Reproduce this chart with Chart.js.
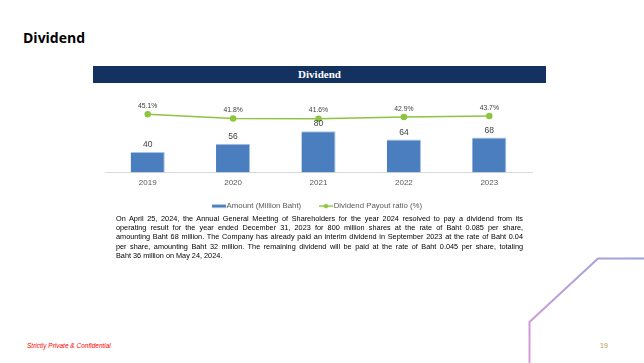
<!DOCTYPE html>
<html>
<head>
<meta charset="utf-8">
<script src="https://cdn.jsdelivr.net/npm/chart.js@4"></script>
<style>
  html, body { margin: 0; padding: 0; background: #fff; }
  body { width: 644px; height: 363px; position: relative; overflow: hidden; font-family: "Liberation Sans", Arial, sans-serif; }
  #pageTitle { position: absolute; left: 23px; top: 28px; font: bold 14px "Open Sans", "Liberation Sans", sans-serif; color: #000; }
  #banner { position: absolute; left: 93px; top: 66px; width: 453px; height: 17px; background: #14325f; color: #fff;
            font: bold 11px "Liberation Serif", "DejaVu Serif", serif; text-align: center; line-height: 17px; }
  #chartBox { position: absolute; left: 93px; top: 85px; width: 453px; height: 135px; }
  #note { position: absolute; left: 116px; top: 214px; width: 407px; font-size: 7.3px; line-height: 9.2px; color: #000; }
  #note div { text-align: justify; text-align-last: justify; white-space: nowrap; }
  #note div.last { text-align-last: left; }
  #footer { position: absolute; left: 27px; top: 342px; font: italic 6.5px "Liberation Sans", sans-serif; color: #ff0000; }
  #pageNo { position: absolute; left: 600px; top: 342px; font: 7px "Liberation Sans", sans-serif; color: #b8964a; }
  #deco { position: absolute; left: 0; top: 0; }
</style>
</head>
<body>
<div id="pageTitle">Dividend</div>
<div id="banner">Dividend</div>
<div id="chartBox"><canvas id="dividendChart"></canvas></div>
<div id="note">
  <div>On April 25, 2024, the Annual General Meeting of Shareholders for the year 2024 resolved to pay a dividend from its</div>
  <div>operating result for the year ended December 31, 2023 for 800 million shares at the rate of Baht 0.085 per share,</div>
  <div>amounting Baht 68 million. The Company has already paid an interim dividend in September 2023 at the rate of Baht 0.04</div>
  <div>per share, amounting Baht 32 million. The remaining dividend will be paid at the rate of Baht 0.045 per share, totaling</div>
  <div class="last">Baht 36 million on May 24, 2024.</div>
</div>
<div id="footer">Strictly Private &amp; Confidential</div>
<div id="pageNo">19</div>
<svg id="deco" width="644" height="363">
  <defs>
    <linearGradient id="decoGrad" x1="0" y1="1" x2="1" y2="0">
      <stop offset="0" stop-color="#d99ad6"/>
      <stop offset="1" stop-color="#9aa3e0"/>
    </linearGradient>
  </defs>
  <polyline points="529.5,363 529.5,322 598,258.5 644,258.5" fill="none" stroke="url(#decoGrad)" stroke-width="2"/>
</svg>

<script>
const years = ["2019", "2020", "2021", "2022", "2023"];
const amountMillionBaht = [40, 56, 80, 64, 68];
const payoutRatio = [45.1, 41.8, 41.6, 42.9, 43.7];

const barColor = "#4a7ebf";
const lineColor = "#8cc63f";
const labelGray = "#595959";

// small swatches for the legend
function makeSwatch(kind) {
    const c = document.createElement("canvas");
    c.width = 14; c.height = 8;
    const g = c.getContext("2d");
    if (kind === "bar") {
        g.fillStyle = barColor;
        g.fillRect(0, 2.5, 14, 3);
    } else {
        g.strokeStyle = lineColor;
        g.lineWidth = 1.5;
        g.beginPath(); g.moveTo(0, 4); g.lineTo(14, 4); g.stroke();
        g.fillStyle = lineColor;
        g.beginPath(); g.arc(7, 4, 2.2, 0, Math.PI * 2); g.fill();
    }
    return c;
}

// value labels above bars and points
const valueLabels = {
    id: "valueLabels",
    afterDatasetsDraw(chart) {
        const ctx = chart.ctx;
        ctx.save();
        ctx.textAlign = "center";
        ctx.textBaseline = "bottom";
        chart.data.datasets.forEach((ds, i) => {
            const meta = chart.getDatasetMeta(i);
            meta.data.forEach((el, j) => {
                if (ds.type === "bar") {
                    ctx.font = "8.5px 'Liberation Sans', sans-serif";
                    ctx.fillStyle = "#404040";
                    ctx.fillText(ds.data[j], el.x, el.y - 3);
                } else {
                    ctx.font = "6.8px 'Liberation Sans', sans-serif";
                    ctx.fillStyle = "#404040";
                    ctx.fillText(ds.data[j].toFixed(1) + "%", el.x, el.y - 5);
                }
            });
        });
        ctx.restore();
    }
};

const ctx = document.getElementById("dividendChart");
new Chart(ctx, {
    data: {
        labels: years,
        datasets: [
            {
                type: "line",
                label: "Dividend Payout ratio (%)",
                data: payoutRatio,
                yAxisID: "yRatio",
                borderColor: lineColor,
                backgroundColor: lineColor,
                borderWidth: 1.5,
                pointRadius: 2.5,
                pointHoverRadius: 2.5,
                tension: 0,
                order: 0,
            },
            {
                type: "bar",
                label: "Amount (Million Baht)",
                data: amountMillionBaht,
                yAxisID: "yAmount",
                backgroundColor: barColor,
                borderColor: "#a9c4e6",
                borderWidth: { top: 1, right: 1, left: 0, bottom: 0 },
                categoryPercentage: 0.8,
                barPercentage: 0.5,
                order: 1,
            },
        ],
    },
    options: {
        responsive: true,
        maintainAspectRatio: false,
        animation: false,
        layout: { padding: { left: 12, right: 14, top: 10, bottom: 0 } },
        scales: {
            x: {
                grid: { display: false, drawTicks: false },
                border: { color: "#d9d9d9", width: 1 },
                ticks: { color: labelGray, font: { size: 8, family: "'Liberation Sans', sans-serif" }, padding: 5 },
            },
            yAmount: {
                display: false,
                min: 0,
                max: 150,
            },
            yRatio: {
                display: false,
                position: "right",
                min: 0,
                max: 60,
            },
        },
        plugins: {
            tooltip: { enabled: false },
            legend: {
                position: "bottom",
                labels: {
                    color: labelGray,
                    font: { size: 7.8, family: "'Liberation Sans', sans-serif" },
                    usePointStyle: true,
                    boxWidth: 14,
                    boxHeight: 8,
                    padding: 10,
                    generateLabels: (chart) =>
                        chart.data.datasets.slice().reverse().map((ds, k) => ({
                            // trailing spaces widen the gap between the two items
                            text: k === 0 ? ds.label + "     " : ds.label,
                            datasetIndex: chart.data.datasets.indexOf(ds),
                            fontColor: labelGray,
                            pointStyle: makeSwatch(ds.type),
                            lineWidth: 0,
                            strokeStyle: "transparent",
                            fillStyle: "transparent",
                        })),
                },
            },
        },
    },
    plugins: [valueLabels],
});
</script>
</body>
</html>
